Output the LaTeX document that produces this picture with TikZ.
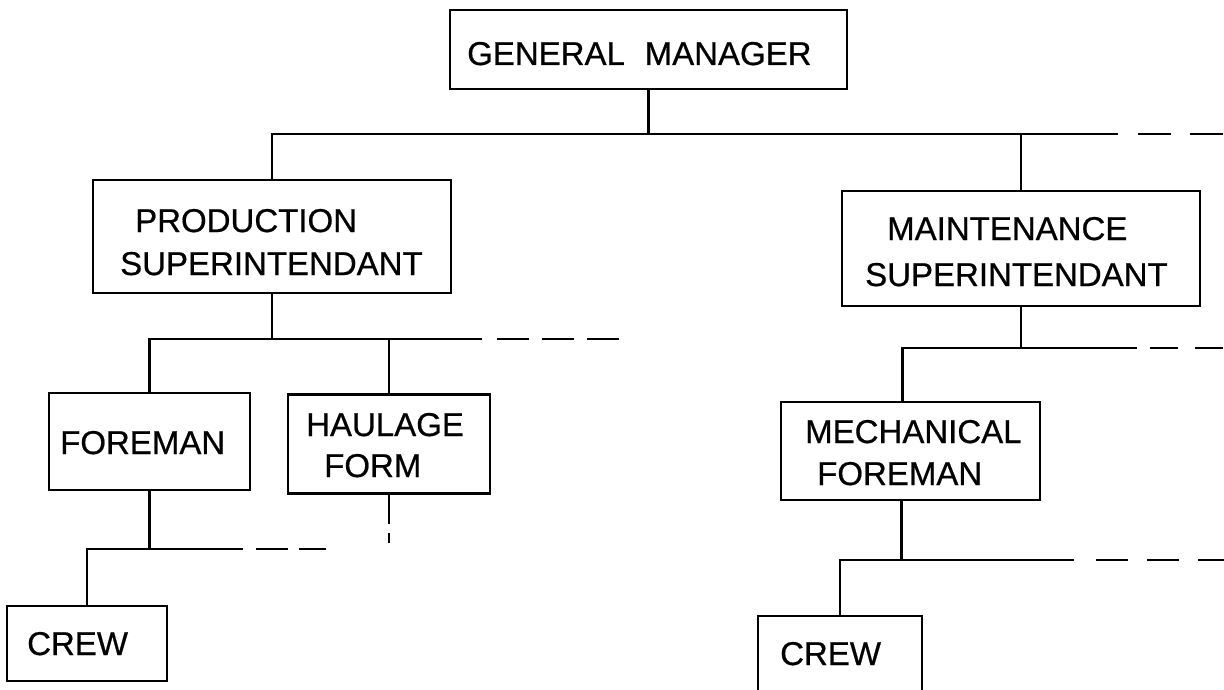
\documentclass[tikz,border=0pt]{standalone}
\usepackage{fontspec}
\setmainfont{Liberation Sans}
\newfontfamily\lblfont{Liberation Sans}[FakeBold=0.6]
\begin{document}
\begin{tikzpicture}[x=1pt,y=-1pt,
  box/.style={draw, line width=2.9pt, rectangle, inner sep=0pt},
  lbl/.style={anchor=base west, inner sep=0pt, font=\lblfont\fontsize{33}{36}\selectfont},
  conn/.style={line width=2.3pt},
  dconn/.style={line width=2.8pt}]
\clip (0,0) rectangle (1224,690);
\fill[white] (0,0) rectangle (1224,690);
% boxes
\node[box, minimum width=397pt, minimum height=79pt] (gm) at (648.5,49.5) {};
\node[box, minimum width=358pt, minimum height=113pt] (prod) at (272,236.5) {};
\node[box, minimum width=358pt, minimum height=115pt] (maint) at (1021,248.5) {};
\node[box, minimum width=201pt, minimum height=97pt] (fore) at (149.5,441.5) {};
\node[box, minimum width=202pt, minimum height=99pt] (haul) at (389,444) {};
\node[box, minimum width=259pt, minimum height=98pt] (mech) at (910.5,451) {};
\node[box, minimum width=160pt, minimum height=75pt] (crewL) at (87,643.5) {};
\node[box, minimum width=164pt, minimum height=90pt] (crewR) at (840,661) {};
% labels
\node[lbl] (tgm) at (467,65) {GENERAL\hspace{0.6em}MANAGER};
\node[lbl] (tprod1) at (135,232) {PRODUCTION};
\node[lbl] (tprod2) at (120,275) {SUPERINTENDANT};
\node[lbl] (tmaint1) at (887,240) {MAINTENANCE};
\node[lbl] (tmaint2) at (865,286) {SUPERINTENDANT};
\node[lbl] (tfore) at (60,454) {FOREMAN};
\node[lbl] (thaul1) at (306,436) {HAULAGE};
\node[lbl] (thaul2) at (324,477) {FORM};
\node[lbl] (tmech1) at (805,443) {MECHANICAL};
\node[lbl] (tmech2) at (817,485) {FOREMAN};
\node[lbl] (tcrewL) at (27,655) {CREW};
\node[lbl] (tcrewR) at (780,665) {CREW};
% bus coordinates
\coordinate (b1L) at (272,134);
\coordinate (b1E) at (1118,134);
\coordinate (b1S) at (1138,134);
\coordinate (b1D) at (1224,134);
\coordinate (b2E) at (482,339);
\coordinate (b2S) at (497,339);
\coordinate (b2D) at (620,339);
\coordinate (b3E) at (243,549);
\coordinate (b3S) at (256,549);
\coordinate (b3D) at (326,549);
\coordinate (b4E) at (1137,348);
\coordinate (b4S) at (1150,348);
\coordinate (b4D) at (1224,348);
\coordinate (b5E) at (1074,560);
\coordinate (b5S) at (1096,560);
\coordinate (b5D) at (1224,560);
\coordinate (hD) at (389,543);
% level 1
\draw[conn] (gm.south) -- (gm.south |- b1L);
\draw[conn] (prod.north) -- (b1L) -- (b1E);
\draw[dconn, dash pattern=on 33pt off 19pt] (b1S) -- (b1D);
\draw[conn] (maint.north) -- (maint.north |- b1L);
% production branch
\draw[conn] (prod.south) -- (prod.south |- b2E);
\draw[conn] (fore.north) |- (b2E);
\draw[dconn, dash pattern=on 32pt off 13pt] (b2S) -- (b2D);
\draw[conn] (haul.north) -- (haul.north |- b2E);
\draw[conn, dash pattern=on 29pt off 9pt] (haul.south) -- (hD);
% foreman branch
\draw[conn] (fore.south) -- (fore.south |- b3E);
\draw[conn] (crewL.north) |- (b3E);
\draw[dconn, dash pattern=on 32pt off 11pt] (b3S) -- (b3D);
% maintenance branch
\draw[conn] (maint.south) -- (maint.south |- b4E);
\draw[conn] ([xshift=-8pt]mech.north) |- (b4E);
\draw[dconn, dash pattern=on 28pt off 17pt] (b4S) -- (b4D);
% mechanical branch
\draw[conn] ([xshift=-9pt]mech.south) -- ([xshift=-9pt]mech.south |- b5E);
\draw[conn] (crewR.north) |- (b5E);
\draw[dconn, dash pattern=on 32pt off 19pt] (b5S) -- (b5D);
\end{tikzpicture}
\end{document}
